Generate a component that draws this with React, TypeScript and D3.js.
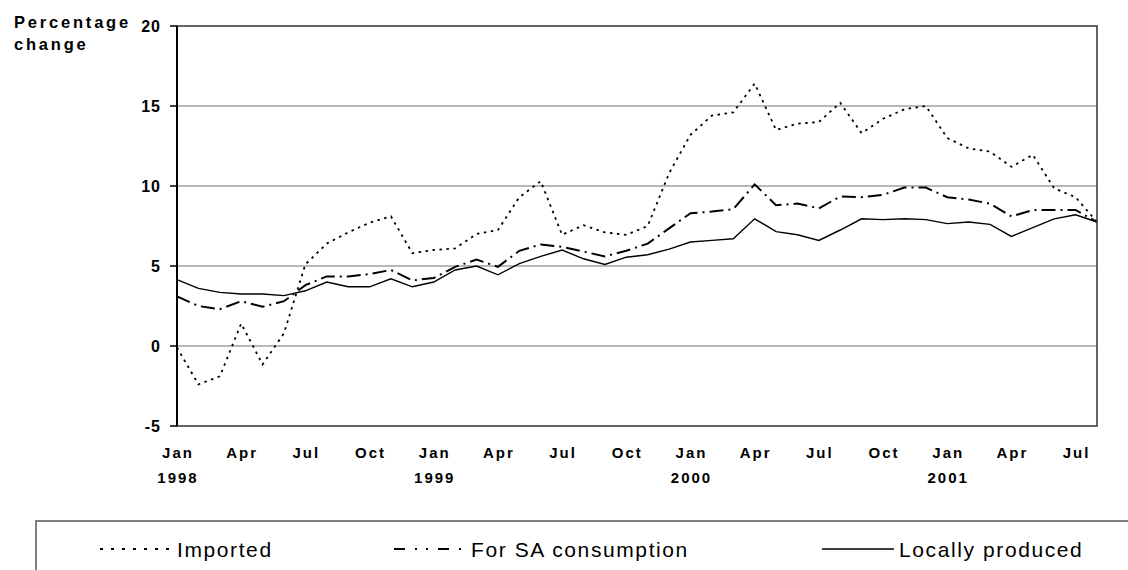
import * as React from 'react';
import * as d3 from 'd3';

const width = 1128;
const height = 570;

const margin = { top: 26, left: 177, right: 31, bottom: 144 };

const monthLabels = ['Jan', 'Apr', 'Jul', 'Oct'];
const yearLabels = ['1998', '1999', '2000', '2001'];
const yTicks = [-5, 0, 5, 10, 15, 20];

// monthly values Jan 1998 .. Aug 2001
const imported = [
  -0.1, -2.4, -1.9, 1.4, -1.15, 0.8, 5.1, 6.4, 7.1, 7.7, 8.1, 5.8,
  6.0, 6.1, 7.0, 7.25, 9.3, 10.3, 6.95, 7.55, 7.1, 6.95, 7.5, 10.8,
  13.2, 14.4, 14.6, 16.4, 13.5, 13.9, 14.0, 15.2, 13.3, 14.2, 14.8, 15.0,
  13.0, 12.35, 12.15, 11.2, 11.95, 9.85, 9.3, 7.75,
];
const saConsumption = [
  3.1, 2.5, 2.3, 2.8, 2.45, 2.8, 3.8, 4.35, 4.35, 4.5, 4.75, 4.1,
  4.25, 4.95, 5.4, 4.95, 5.95, 6.35, 6.2, 5.9, 5.6, 5.95, 6.4, 7.35,
  8.3, 8.4, 8.55, 10.1, 8.8, 8.9, 8.6, 9.35, 9.3, 9.45, 9.9, 9.9,
  9.3, 9.15, 8.9, 8.1, 8.5, 8.5, 8.5, 7.75,
];
const locallyProduced = [
  4.15, 3.6, 3.35, 3.25, 3.25, 3.15, 3.45, 4.0, 3.7, 3.7, 4.2, 3.7,
  4.0, 4.75, 5.0, 4.45, 5.15, 5.6, 6.0, 5.45, 5.1, 5.55, 5.7, 6.05,
  6.5, 6.6, 6.7, 7.95, 7.15, 6.95, 6.6, 7.25, 7.95, 7.9, 7.95, 7.9,
  7.65, 7.75, 7.6, 6.85, 7.4, 7.95, 8.2, 7.75,
];

const series = [
  {
    name: 'Imported',
    values: imported,
    dash: '2.5 4.5',
    legendDash: '3 8',
    sw: 1.8,
    legendX: 100,
  },
  {
    name: 'For SA consumption',
    values: saConsumption,
    dash: '14 5 2 5',
    legendDash: '11 10 2 9 2 10',
    sw: 2,
    legendX: 394,
  },
  { name: 'Locally produced', values: locallyProduced, dash: null, legendDash: null, sw: 1.4, legendX: 822 },
];

const font = '"Liberation Sans", Arial, sans-serif';

const App: React.FC = () => {
  const idx = d3.range(imported.length);
  const x = d3
    .scalePoint<number>()
    .domain(idx)
    .range([margin.left, width - margin.right]);
  const y = d3
    .scaleLinear()
    .domain([-5, 20])
    .range([height - margin.bottom, margin.top]);

  const line = d3
    .line<number>()
    .x((_, i) => x(i) as number)
    .y((d) => y(d));

  const x0 = margin.left;
  const x1 = width - margin.right;
  const labelIdx = idx.filter((i) => i % 3 === 0);

  return (
    <svg
      width={width}
      height={height}
      viewBox={`0 0 ${width} ${height}`}
      style={{ position: 'absolute', left: 0, top: 0, background: '#fff' }}
      fontFamily={font}
    >
      {/* grid */}
      {yTicks.slice(1, -1).map((t) => (
        <line key={t} x1={x0} x2={x1} y1={y(t)} y2={y(t)} stroke="#a0a0a0" strokeWidth={1.5} />
      ))}

      {/* series */}
      {series.map((s) => (
        <path
          key={s.name}
          d={line(s.values) ?? ''}
          fill="none"
          stroke="#000"
          strokeWidth={s.sw}
          strokeDasharray={s.dash ?? undefined}
        />
      ))}

      {/* frame */}
      <rect x={x0} y={y(20)} width={x1 - x0} height={y(-5) - y(20)} fill="none" stroke="#333" strokeWidth={1.5} />
      <line x1={x0} x2={x0} y1={y(20)} y2={y(-5)} stroke="#000" strokeWidth={2} />

      {/* y axis */}
      {yTicks.map((t) => (
        <g key={t}>
          <line x1={x0 - 7} x2={x0} y1={y(t)} y2={y(t)} stroke="#000" strokeWidth={1.5} />
          <text
            x={161}
            y={y(t) + 5.5}
            textAnchor="end"
            fontSize={16}
            fontWeight="bold"
            letterSpacing={1}
          >
            {t}
          </text>
        </g>
      ))}

      <text x={14} y={28} fontSize={16.5} fontWeight="bold" letterSpacing={2.8}>
        Percentage
      </text>
      <text x={14} y={50} fontSize={16.5} fontWeight="bold" letterSpacing={2.8}>
        change
      </text>

      {/* x axis */}
      {labelIdx.map((i) => (
        <g key={i}>
          <text
            x={(x(i) as number) + 1}
            y={458}
            textAnchor="middle"
            fontSize={15}
            fontWeight="bold"
            letterSpacing={2}
          >
            {monthLabels[(i / 3) % 4]}
          </text>
          {i % 12 === 0 && (
            <text
              x={(x(i) as number) + 1}
              y={483}
              textAnchor="middle"
              fontSize={15}
              fontWeight="bold"
              letterSpacing={2}
            >
              {yearLabels[i / 12]}
            </text>
          )}
        </g>
      ))}

      {/* legend */}
      <path d={`M36,${height}V521H${width}`} fill="none" stroke="#808080" strokeWidth={2} />
      {series.map((s) => (
        <g key={s.name}>
          <line
            x1={s.legendX}
            x2={s.legendX + 72}
            y1={549}
            y2={549}
            stroke="#000"
            strokeWidth={s.sw}
            strokeDasharray={s.legendDash ?? undefined}
          />
          <text x={s.legendX + 77} y={557} fontSize={21} letterSpacing={1.6}>
            {s.name}
          </text>
        </g>
      ))}
    </svg>
  );
};

export default App;
